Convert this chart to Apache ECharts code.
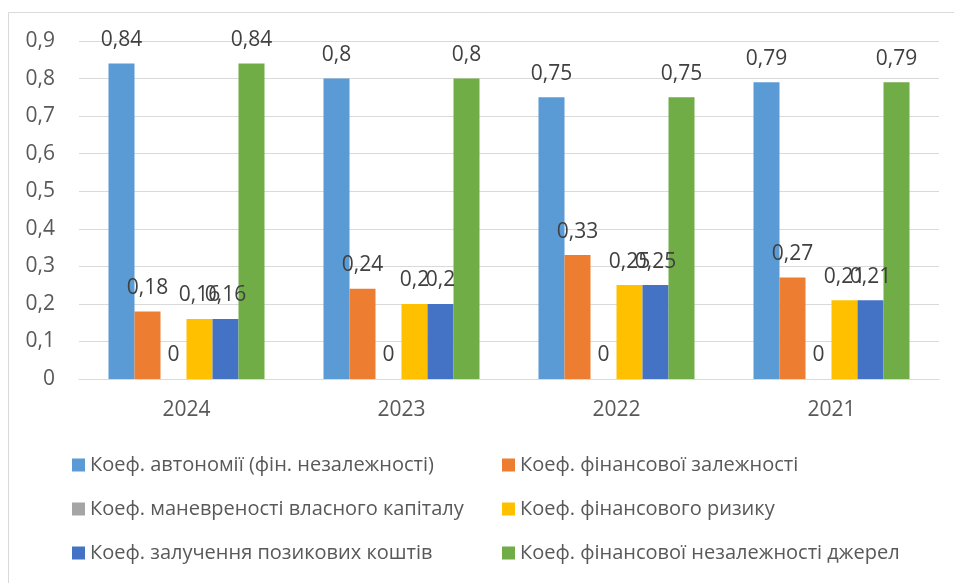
<!DOCTYPE html>
<html>
<head>
<meta charset="utf-8">
<script src="https://cdn.jsdelivr.net/npm/echarts@6/dist/echarts.min.js"></script>
<style>
  html, body { margin: 0; padding: 0; background: #fff; }
  #chart { width: 954px; height: 583px; }
</style>
</head>
<body>
<div id="chart"></div>
<script>
// роки
var categories = ['2024', '2023', '2022', '2021'];

// назви показників
var names = [
  'Коеф. автономії (фін. незалежності)',
  'Коеф. фінансової залежності',
  'Коеф. маневреності власного капіталу',
  'Коеф. фінансового ризику',
  'Коеф. залучення позикових коштів',
  'Коеф. фінансової незалежності джерел'
];

// значення
var autonomy = [0.84, 0.8, 0.75, 0.79];
var dependence = [0.18, 0.24, 0.33, 0.27];
var maneuver = [0, 0, 0, 0];
var risk = [0.16, 0.2, 0.25, 0.21];
var borrowed = [0.16, 0.2, 0.25, 0.21];
var sourcesIndep = [0.84, 0.8, 0.75, 0.79];

var colors = ['#5B9BD5', '#ED7D31', '#A5A5A5', '#FFC000', '#4472C4', '#70AD47'];
var values = [autonomy, dependence, maneuver, risk, borrowed, sourcesIndep];

var font = '"Open Sans", "Noto Sans", sans-serif';

function comma(v) {
  return String(v).replace('.', ',');
}

var chart = echarts.init(document.getElementById('chart'));

var series = values.map(function (data, i) {
  return {
    name: names[i],
    type: 'bar',
    data: data,
    barWidth: 26,
    barGap: '0%',
    itemStyle: { color: colors[i] },
    label: {
      show: true,
      position: 'top',
      distance: 13,
      color: '#404040',
      fontSize: 21,
      fontFamily: font,
      formatter: function (p) { return comma(p.value); }
    }
  };
});

var legendText = { color: '#595959', fontSize: 20, fontFamily: font, lineHeight: 20 };

var option = {
  animation: false,
  color: colors,
  graphic: [{
    type: 'rect',
    silent: true,
    shape: { x: 8.5, y: 12.5, width: 970, height: 600 },
    style: { fill: 'none', stroke: '#d9d9d9', lineWidth: 1 }
  }],
  grid: { left: 79, right: 15, top: 41, bottom: 204 },
  xAxis: {
    type: 'category',
    data: categories,
    axisTick: { show: false },
    axisLine: { lineStyle: { color: '#d9d9d9', width: 1 } },
    axisLabel: { color: '#595959', fontSize: 21, fontFamily: font, margin: 21 }
  },
  yAxis: {
    type: 'value',
    min: 0,
    max: 0.9,
    interval: 0.1,
    axisLine: { show: false },
    axisTick: { show: false },
    splitLine: { lineStyle: { color: '#d9d9d9', width: 1 } },
    axisLabel: {
      color: '#595959', fontSize: 21, fontFamily: font, margin: 24,
      formatter: function (v) { return comma(Math.round(v * 10) / 10); }
    }
  },
  legend: [
    {
      orient: 'vertical',
      left: 67, top: 450,
      itemWidth: 13, itemHeight: 13, itemGap: 24,
      icon: 'rect',
      textStyle: legendText,
      data: [names[0], names[2], names[4]]
    },
    {
      orient: 'vertical',
      left: 497, top: 450,
      itemWidth: 13, itemHeight: 13, itemGap: 24,
      icon: 'rect',
      textStyle: legendText,
      data: [names[1], names[3], names[5]]
    }
  ],
  series: series
};

chart.setOption(option);
</script>
</body>
</html>
